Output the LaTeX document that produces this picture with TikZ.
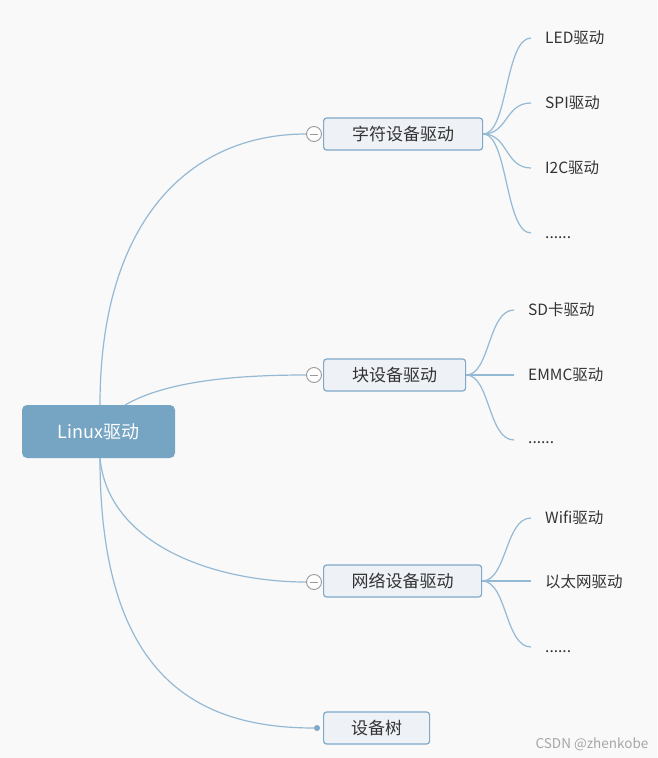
\documentclass[tikz,border=0pt]{standalone}
\usepackage{fontspec}
\setmainfont{Noto Sans CJK SC}
\definecolor{bgc}{HTML}{F9F9F9}
\definecolor{rootc}{HTML}{76A5C4}
\definecolor{linec}{HTML}{94B9D4}
\definecolor{boxfill}{HTML}{EEF2F6}
\definecolor{boxdraw}{HTML}{7FA9C9}
\definecolor{txtc}{HTML}{333333}
\tikzset{
  rootbox/.style={fill=rootc, rounded corners=5pt, minimum width=153pt, minimum height=53pt, text=white, font=\fontsize{18}{18}\selectfont, inner sep=0pt},
  subbox/.style={fill=boxfill, draw=boxdraw, line width=1.2pt, rounded corners=3pt, minimum height=32pt, text=txtc, font=\fontsize{17}{17}\selectfont, inner sep=0pt, anchor=west},
  leaf/.style={text=txtc, font=\fontsize{15.5}{15.5}\selectfont, anchor=west, inner sep=0pt},
  conn/.style={draw=linec, line width=1.2pt},
  toggle/.style={circle, draw=gray!80, fill=white, line width=0.9pt, minimum size=15pt, inner sep=0pt},
}
\begin{document}
\begin{tikzpicture}[x=1pt,y=-1pt]
\fill[bgc] (0,0) rectangle (657,758);
\useasboundingbox (0,0) rectangle (657,758);

% root
\node[rootbox] (root) at (98.5,431.5) {Linux驱动};
\coordinate (r1) at (100,405);
\coordinate (r2) at (125,405);
\coordinate (r3) at (100,458);

% level-1 boxes
\node[subbox, minimum width=159pt] (c1) at (323,134) {字符设备驱动};
\node[subbox, minimum width=142pt] (c2) at (323,375) {块设备驱动};
\node[subbox, minimum width=158pt] (c3) at (323,581) {网络设备驱动};
\node[subbox, minimum width=106pt] (c4) at (323,728) {设备树};

% toggles
\node[toggle] (t1) at (314,134) {};
\node[toggle] (t2) at (314,375) {};
\node[toggle] (t3) at (314,582) {};
\node[circle, fill=boxdraw, minimum size=6pt, inner sep=0pt] (t4) at (317,728) {};
\draw[gray!80, line width=0.9pt] (t1.center) ++(-4,0) -- ++(8,0);
\draw[gray!80, line width=0.9pt] (t2.center) ++(-4,0) -- ++(8,0);
\draw[gray!80, line width=0.9pt] (t3.center) ++(-4,0) -- ++(8,0);

% root connectors
\draw[conn] (r1) .. controls (100,220) and (190,134) .. (t1.west);
\draw[conn] (r2) .. controls (165,382) and (230,375) .. (t2.west);
\draw[conn] (r3) .. controls (108,545) and (215,582) .. (t3.west);
\draw[conn] (r3) .. controls (100,670) and (190,728) .. (t4);

% leaves of c1
\node[leaf] (l11) at (545,38) {LED驱动};
\node[leaf] (l12) at (545,103) {SPI驱动};
\node[leaf] (l13) at (545,168) {I2C驱动};
\node[leaf] (l14) at (545,238) {......};
\coordinate (e11) at (531,38);
\coordinate (e12) at (531,103);
\coordinate (e13) at (531,168);
\coordinate (e14) at (531,233);
\draw[conn] (c1.east) .. controls (508,134) and (505,38) .. (e11);
\draw[conn] (c1.east) .. controls (508,134) and (505,103) .. (e12);
\draw[conn] (c1.east) .. controls (508,134) and (505,168) .. (e13);
\draw[conn] (c1.east) .. controls (508,134) and (505,233) .. (e14);

% leaves of c2
\node[leaf] (l21) at (528,310) {SD卡驱动};
\node[leaf] (l22) at (528,375) {EMMC驱动};
\node[leaf] (l23) at (528,443) {......};
\coordinate (e21) at (514,310);
\coordinate (e22) at (514,375);
\coordinate (e23) at (514,440);
\draw[conn] (c2.east) .. controls (490,375) and (488,310) .. (e21);
\draw[conn] (c2.east) -- (e22);
\draw[conn] (c2.east) .. controls (490,375) and (488,440) .. (e23);

% leaves of c3
\node[leaf] (l31) at (545,518) {Wifi驱动};
\node[leaf] (l32) at (545,582) {以太网驱动};
\node[leaf] (l33) at (545,652) {......};
\coordinate (e31) at (531,518);
\coordinate (e32) at (531,581);
\coordinate (e33) at (531,647);
\draw[conn] (c3.east) .. controls (507,581) and (505,518) .. (e31);
\draw[conn] (c3.east) -- (e32);
\draw[conn] (c3.east) .. controls (507,581) and (505,647) .. (e33);

% watermark
\node[text=gray!70, font=\fontsize{13.5}{13.5}\selectfont, anchor=center] (wm) at (592,744) {CSDN @zhenkobe};
\end{tikzpicture}
\end{document}
